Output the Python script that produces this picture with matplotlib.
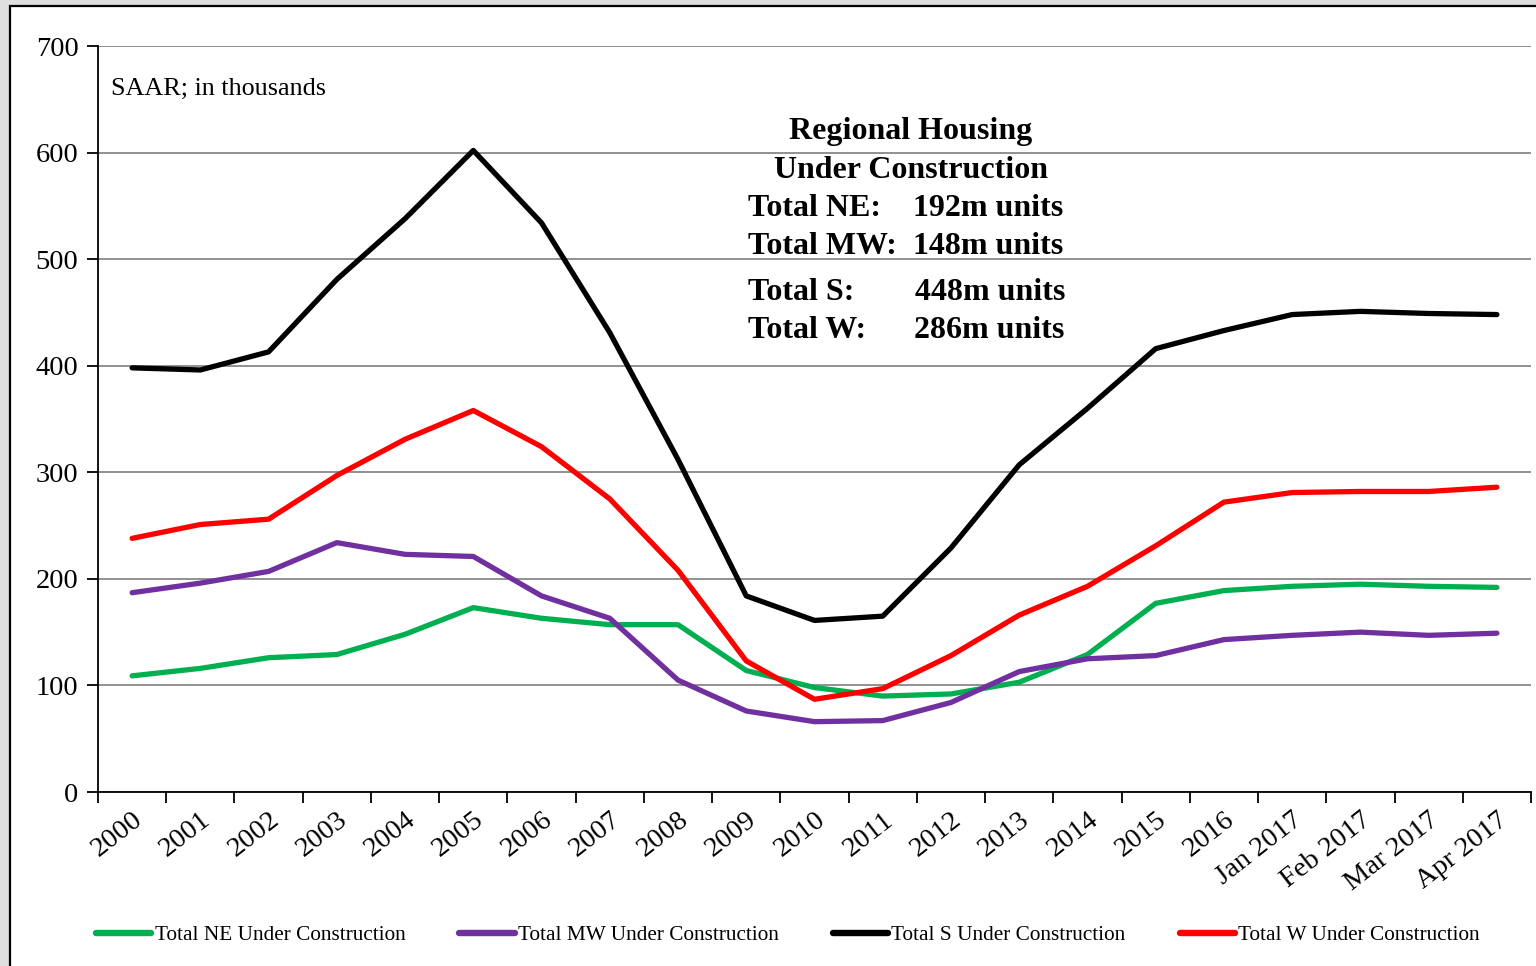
import matplotlib.pyplot as plt
from matplotlib.patches import Rectangle

labels = ['2000', '2001', '2002', '2003', '2004', '2005', '2006', '2007', '2008',
          '2009', '2010', '2011', '2012', '2013', '2014', '2015', '2016',
          'Jan 2017', 'Feb 2017', 'Mar 2017', 'Apr 2017']
ne = [109, 116, 126, 129, 148, 173, 163, 157, 157, 114, 98, 90, 92, 103, 129, 177, 189, 193, 195, 193, 192]
mw = [187, 196, 207, 234, 223, 221, 184, 163, 105, 76, 66, 67, 84, 113, 125, 128, 143, 147, 150, 147, 149]
s = [398, 396, 413, 481, 538, 602, 534, 431, 312, 184, 161, 165, 229, 307, 360, 416, 433, 448, 451, 449, 448]
w = [238, 251, 256, 297, 331, 358, 324, 275, 208, 123, 87, 97, 128, 166, 193, 231, 272, 281, 282, 282, 286]

plt.rcParams['font.family'] = ['Liberation Serif', 'DejaVu Serif']

W, H = 1536, 966
fig = plt.figure(figsize=(W / 100, H / 100), dpi=100, facecolor='#dedede')

# white card with black border on left/top
fig.patches.append(Rectangle((10 / W, -0.05), 1.1, 1 - 6 / H + 0.05, transform=fig.transFigure,
                             facecolor='white', edgecolor='black', linewidth=1.6, zorder=-5))

ax = fig.add_axes([98 / W, 1 - 792 / H, (1531 - 98) / W, (792 - 46) / H])
ax.set_facecolor('none')

x = list(range(len(labels)))
ax.plot(x, ne, color='#00b050', lw=3.8, label='Total NE Under Construction', solid_capstyle='round')
ax.plot(x, mw, color='#7030a0', lw=3.8, label='Total MW Under Construction', solid_capstyle='round')
ax.plot(x, s, color='black', lw=3.8, label='Total S Under Construction', solid_capstyle='round')
ax.plot(x, w, color='#ff0000', lw=3.8, label='Total W Under Construction', solid_capstyle='round')

ax.set_xlim(-0.5, len(labels) - 0.5)
ax.set_ylim(0, 700)
ax.set_yticks(range(0, 701, 100))
ax.yaxis.grid(True, color='#888888', lw=1.3)
ax.set_axisbelow(True)
for sp in ['top', 'right']:
    ax.spines[sp].set_visible(False)
ax.spines['left'].set_linewidth(1.3)
ax.spines['bottom'].set_linewidth(1.3)

ax.set_xticks([i - 0.5 for i in range(len(labels) + 1)])
ax.set_xticklabels([])
ax.set_xticks(x, minor=True)
ax.set_xticklabels(labels, minor=True, rotation=38, ha='right', va='top',
                   rotation_mode='anchor', fontsize=20.5)
ax.tick_params(axis='x', which='minor', length=0, pad=11)
ax.tick_params(axis='x', which='major', length=8, width=1.3, direction='out')
ax.tick_params(axis='y', length=8, width=1.3, direction='out', labelsize=20.5, pad=6)

ax.text(0.009, 0.942, 'SAAR; in thousands', transform=ax.transAxes, fontsize=18.8,
        ha='left', va='center')

tx = lambda px: (px - 98) / (1531 - 98)
ty = lambda py: (792 - py) / (792 - 46)
bold = dict(transform=ax.transAxes, fontsize=23, fontweight='bold', va='center')
ax.text(tx(911), ty(132), 'Regional Housing', ha='center', **bold)
ax.text(tx(911), ty(170), 'Under Construction', ha='center', **bold)
rows = [('Total NE:', '192m units', 209, 913), ('Total MW:', '148m units', 247, 913),
        ('Total S:', '448m units', 292, 915), ('Total W:', '286m units', 331, 914)]
for a, b, py, bx in rows:
    ax.text(tx(748), ty(py), a, ha='left', **bold)
    ax.text(tx(bx), ty(py), b, ha='left', **bold)

leg = fig.legend(loc='center', bbox_to_anchor=(788 / W, 1 - 935 / H), ncol=4, frameon=False,
                 fontsize=15.3, handlelength=2.6, handletextpad=0.15, columnspacing=2.55)
for ln in leg.get_lines():
    ln.set_linewidth(4.6)

fig.savefig('out.png', dpi=100, facecolor=fig.get_facecolor())
